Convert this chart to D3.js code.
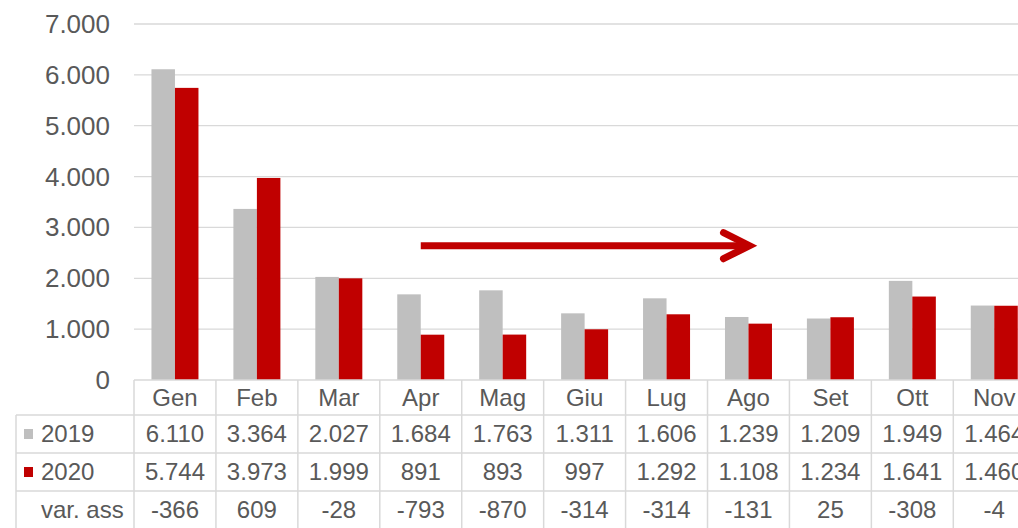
<!DOCTYPE html>
<html><head><meta charset="utf-8">
<script src="https://cdn.jsdelivr.net/npm/d3@7"></script>
<style>html,body{margin:0;padding:0;background:#fff;overflow:hidden}</style>
</head><body>
<script>
const months = ["Gen","Feb","Mar","Apr","Mag","Giu","Lug","Ago","Set","Ott","Nov"];
const v2019 = [6110,3364,2027,1684,1763,1311,1606,1239,1209,1949,1464];
const v2020 = [5744,3973,1999,891,893,997,1292,1108,1234,1641,1460];
const varAss = [-366,609,-28,-793,-870,-314,-314,-131,25,-308,-4];
const yTicks = [0,1000,2000,3000,4000,5000,6000,7000];
const seriesNames = ["2019","2020"];
const arrowFrom = "Apr", arrowTo = "Ago", arrowValue = 2640;

const W = 1018, H = 528;
const gray = "#BFBFBF", red = "#C00000", grid = "#D9D9D9", txt = "#595959";
const font = "'Liberation Sans', Arial, sans-serif";
const fmt = d3.formatLocale({decimal:",", thousands:".", grouping:[3], currency:["","€"], minus:"-"}).format(",d");

const svg = d3.select("body").append("svg").attr("width", W).attr("height", H)
  .style("font-family", font);

const x0 = 134, colW = 81.93;
const x = d3.scaleBand().domain(months).range([x0, x0 + months.length*colW]).paddingInner(0).paddingOuter(0);
const y = d3.scaleLinear().domain([0,7000]).range([380, 24]);
const groupW = 47;
const xs = d3.scaleBand().domain(seriesNames).range([0, groupW]);

// gridlines
svg.append("g").selectAll("line").data(yTicks.filter(d=>d>0)).join("line")
  .attr("x1", x0).attr("x2", W).attr("y1", d=>y(d)).attr("y2", d=>y(d))
  .attr("stroke", grid).attr("stroke-width", 1.3);

// y labels
svg.append("g").selectAll("text").data(yTicks).join("text")
  .attr("x", 110).attr("y", d=>y(d) + 9).attr("text-anchor","end")
  .attr("font-size", 26).attr("fill", txt).text(d=>fmt(d));

// bars
const series = [v2019, v2020];
const colors = [gray, red];
series.forEach((vals, si) => {
  svg.append("g").selectAll("rect").data(months).join("rect")
    .attr("x", m => x(m) + (x.bandwidth()-groupW)/2 + xs(seriesNames[si]))
    .attr("width", xs.bandwidth())
    .attr("y", (m,i) => y(vals[i]))
    .attr("height", (m,i) => y(0) - y(vals[i]))
    .attr("fill", colors[si]);
});

// table
const rowY = [380, 415, 453, 491, 529];
const tg = svg.append("g");
const line = (x1,y1,x2,y2) => tg.append("line").attr("x1",x1).attr("y1",y1).attr("x2",x2).attr("y2",y2)
  .attr("stroke", grid).attr("stroke-width", 1.5);
const xEnd = x0 + months.length*colW;
line(x0, rowY[0], xEnd, rowY[0]);
for (let r = 1; r < rowY.length; r++) line(16, rowY[r], xEnd, rowY[r]);
line(16, rowY[1], 16, rowY[4]);
months.forEach(m => line(x(m), rowY[0], x(m), rowY[4]));
line(xEnd, rowY[0], xEnd, rowY[4]);

const fs = 24;
const rowMid = r => (rowY[r] + rowY[r+1]) / 2 + fs*0.35;
tg.selectAll("text.m").data(months).join("text").attr("class","m")
  .attr("x", m => x(m) + x.bandwidth()/2).attr("y", rowMid(0))
  .attr("text-anchor","middle").attr("font-size", fs).attr("fill", txt).text(m=>m);

const rows = [v2019, v2020, varAss];
rows.forEach((vals, ri) => {
  tg.append("g").selectAll("text").data(months).join("text")
    .attr("x", m => x(m) + x.bandwidth()/2).attr("y", rowMid(ri+1))
    .attr("text-anchor","middle").attr("font-size", fs).attr("fill", txt)
    .text((m,i) => fmt(vals[i]));
});
// row labels
seriesNames.forEach((s, i) => {
  tg.append("rect").attr("x", 24).attr("y", (rowY[i+1]+rowY[i+2])/2 - 5).attr("width", 9).attr("height", 10)
    .attr("fill", colors[i]);
  tg.append("text").attr("x", 41).attr("y", rowMid(i+1)).attr("font-size", fs).attr("fill", txt).text(s);
});
tg.append("text").attr("x", 41).attr("y", rowMid(3)).attr("font-size", fs).attr("fill", txt).text("var. ass");

// arrow
const ax1 = x(arrowFrom) + x.bandwidth()/2, ax2 = x(arrowTo) + x.bandwidth()/2 + 3, ay = y(arrowValue);
svg.append("line").attr("x1", ax1).attr("x2", ax2 - 4).attr("y1", ay).attr("y2", ay)
  .attr("stroke", red).attr("stroke-width", 7);
svg.append("path").attr("d", `M${ax2-28},${ay-13}L${ax2-2},${ay}L${ax2-28},${ay+13}`)
  .attr("fill","none").attr("stroke", red).attr("stroke-width", 7)
  .attr("stroke-linecap","round").attr("stroke-linejoin","miter");
</script>
</body></html>
